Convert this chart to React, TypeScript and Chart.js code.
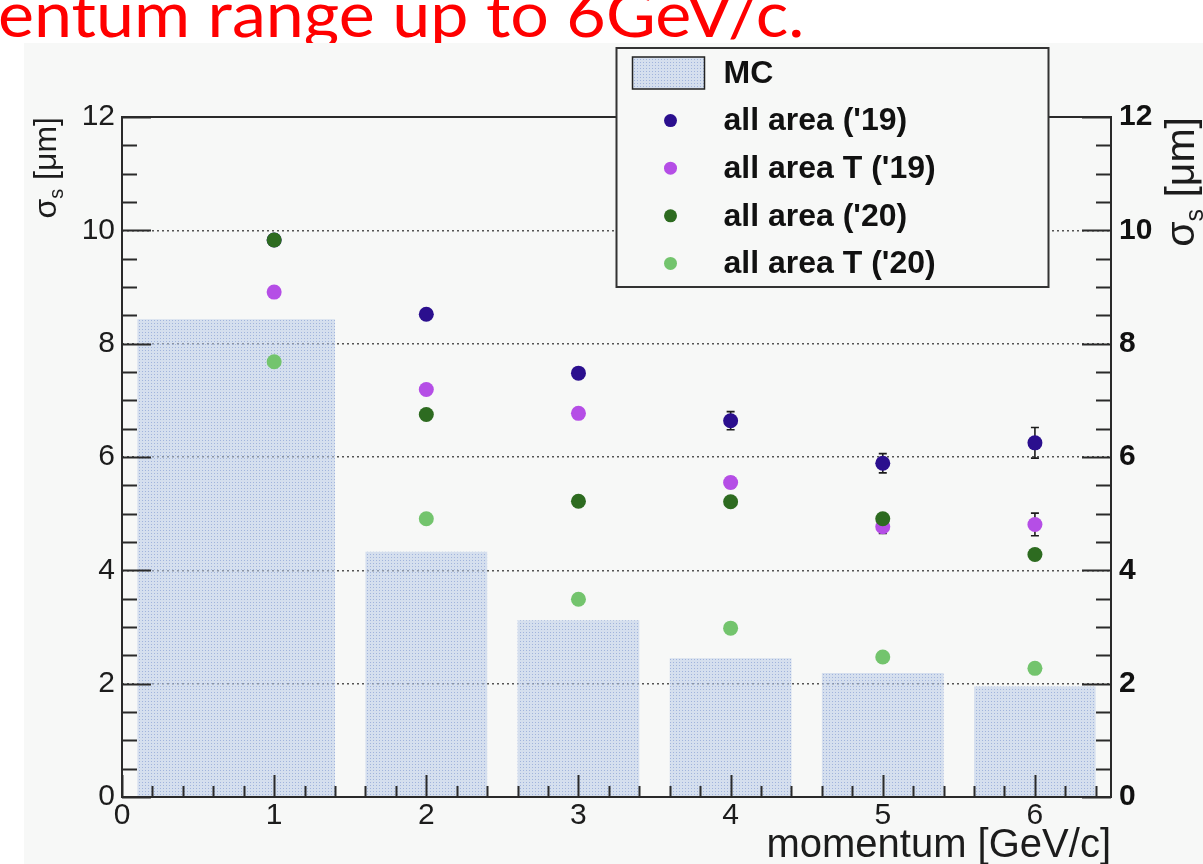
import React, { useEffect, useRef } from "react";
import { Chart, registerables } from "chart.js";

Chart.register(...registerables);

// ---------------- data ----------------
const momentum = [1, 2, 3, 4, 5, 6];
const mcBinLow = [0.1, 1.6, 2.6, 3.6, 4.6, 5.6];
const mcBinHigh = [1.4, 2.4, 3.4, 4.4, 5.4, 6.4];
const mcSigma = [8.43, 4.33, 3.12, 2.45, 2.19, 1.95];
const allArea19 = [9.83, 8.52, 7.48, 6.64, 5.89, 6.25];
const allArea19Err = [0.06, 0.07, 0.08, 0.16, 0.17, 0.27];
const allAreaT19 = [8.91, 7.19, 6.77, 5.55, 4.77, 4.81];
const allAreaT19Err = [0.05, 0.06, 0.07, 0.09, 0.12, 0.2];
const allArea20 = [9.83, 6.75, 5.22, 5.21, 4.91, 4.28];
const allArea20Err = [0.04, 0.05, 0.05, 0.06, 0.07, 0.09];
const allAreaT20 = [7.68, 4.91, 3.49, 2.98, 2.47, 2.27];
const allAreaT20Err = [0.04, 0.04, 0.04, 0.05, 0.06, 0.08];
const xTickValues = [0, 1, 2, 3, 4, 5, 6];
const yTickValues = [0, 2, 4, 6, 8, 10, 12];
const seriesLabels = ["MC", "all area ('19)", "all area T ('19)", "all area ('20)", "all area T ('20)"];
const seriesColors = ["rgba(186,202,232,0.55)", "#2b0f8e", "#b54ee6", "#2d6b20", "#73c46d"];
const mcDotColor = "rgba(140,162,212,0.7)";
const xTitle = "momentum [GeV/c]";
const yTitleSymbol = "σ";
const yTitleSub = "s";
const yTitleUnit = " [μm]";
const slideTitle = "entum range up to 6GeV/c.";

const FONT = "'Liberation Sans', Arial, Helvetica, sans-serif";
const BG = "#f7f8f7";
const INK = "#1c1c1c";

function makePattern(): CanvasPattern | string {
  const c = document.createElement("canvas");
  c.width = 3;
  c.height = 3;
  const g = c.getContext("2d");
  if (!g) return seriesColors[0];
  g.fillStyle = seriesColors[0];
  g.fillRect(0, 0, 3, 3);
  g.fillStyle = mcDotColor;
  g.fillRect(1, 1, 1, 1);
  return g.createPattern(c, "repeat") || seriesColors[0];
}

const errorBarPlugin = {
  id: "errorBars",
  beforeDatasetsDraw(chart: any) {
    const { ctx } = chart;
    const x = chart.scales.x;
    const y = chart.scales.y;
    ctx.save();
    ctx.strokeStyle = INK;
    ctx.lineWidth = 1.6;
    chart.data.datasets.forEach((ds: any) => {
      if (!ds.errors) return;
      ds.data.forEach((p: any, j: number) => {
        const e = ds.errors[j];
        const px = x.getPixelForValue(p.x);
        const t = y.getPixelForValue(p.y + e);
        const b = y.getPixelForValue(p.y - e);
        ctx.beginPath();
        ctx.moveTo(px, t);
        ctx.lineTo(px, b);
        ctx.moveTo(px - 4, t);
        ctx.lineTo(px + 4, t);
        ctx.moveTo(px - 4, b);
        ctx.lineTo(px + 4, b);
        ctx.stroke();
      });
    });
    ctx.restore();
  },
};

const framePlugin = {
  id: "frameTicks",
  afterDatasetsDraw(chart: any) {
    const { ctx, chartArea } = chart;
    const { left, right, top, bottom } = chartArea;
    const x = chart.scales.x;
    const y = chart.scales.y;
    ctx.save();
    ctx.strokeStyle = "#2a2a2a";
    ctx.lineWidth = 2;
    ctx.strokeRect(left, top, right - left, bottom - top);
    ctx.beginPath();
    for (let k = 0; k <= 24; k++) {
      const v = k * 0.5;
      const py = Math.round(y.getPixelForValue(v)) + 0.5;
      const len = k % 4 === 0 ? 29 : 15;
      ctx.moveTo(left, py);
      ctx.lineTo(left + len, py);
      ctx.moveTo(right, py);
      ctx.lineTo(right - len, py);
    }
    for (let k = 0; k <= 32; k++) {
      const v = k * 0.2;
      const px = Math.round(x.getPixelForValue(v)) + 0.5;
      const len = k % 5 === 0 ? 22 : 11;
      ctx.moveTo(px, bottom);
      ctx.lineTo(px, bottom - len);
    }
    ctx.stroke();
    ctx.restore();
  },
};

function drawSigmaTitle(ctx: CanvasRenderingContext2D, cx: number, yEnd: number, size: number) {
  ctx.save();
  ctx.translate(cx, yEnd);
  ctx.rotate(-Math.PI / 2);
  ctx.fillStyle = INK;
  ctx.textBaseline = "alphabetic";
  ctx.textAlign = "left";
  const big = `${size}px ${FONT}`;
  const small = `${Math.round(size * 0.62)}px ${FONT}`;
  ctx.font = big;
  const w1 = ctx.measureText(yTitleSymbol).width;
  const w3 = ctx.measureText(yTitleUnit).width;
  ctx.font = small;
  const w2 = ctx.measureText(yTitleSub).width;
  const total = w1 + w2 + w3;
  const base = size * 0.3;
  let xx = -total;
  ctx.font = big;
  ctx.fillText(yTitleSymbol, xx, base);
  xx += w1;
  ctx.font = small;
  ctx.fillText(yTitleSub, xx, base + size * 0.22);
  xx += w2;
  ctx.font = big;
  ctx.fillText(yTitleUnit, xx, base);
  ctx.restore();
}

const decorPlugin = {
  id: "decor",
  afterDraw(chart: any) {
    const { ctx, chartArea } = chart;
    const { left, right, top } = chartArea;
    // axis titles
    drawSigmaTitle(ctx, left - 76, top, 32);
    drawSigmaTitle(ctx, right + 71, top, 41);

    // legend
    const bx = left + (right - left) * 0.5;
    const by = top - 69;
    const bw = 432;
    const bh = 239;
    ctx.save();
    ctx.fillStyle = BG;
    ctx.fillRect(bx, by, bw, bh);
    ctx.strokeStyle = "#333";
    ctx.lineWidth = 2;
    ctx.strokeRect(bx, by, bw, bh);
    ctx.font = `bold 32px ${FONT}`;
    ctx.textBaseline = "middle";
    ctx.textAlign = "left";
    const rowY = (i: number) => by + 25 + i * 47.6;
    chart.data.datasets.forEach((ds: any, i: number) => {
      const cy = rowY(i);
      if (i === 0) {
        ctx.fillStyle = ds.backgroundColor;
        ctx.fillRect(bx + 16, cy - 16, 72, 32);
        ctx.strokeStyle = "#222";
        ctx.lineWidth = 1.5;
        ctx.strokeRect(bx + 16, cy - 16, 72, 32);
      } else {
        ctx.fillStyle = ds.pointBackgroundColor;
        ctx.beginPath();
        ctx.arc(bx + 54, cy, 6.5, 0, Math.PI * 2);
        ctx.fill();
      }
      ctx.fillStyle = "#111";
      ctx.fillText(ds.label, bx + 107, cy + 1);
    });
    ctx.restore();
  },
};

export default function App() {
  const ref = useRef<HTMLCanvasElement | null>(null);

  useEffect(() => {
    if (!ref.current) return;
    const pattern = makePattern();
    const mcOutline = mcSigma.flatMap((v, i) => [
      { x: mcBinLow[i], y: 0 },
      { x: mcBinLow[i], y: v },
      { x: mcBinHigh[i], y: v },
      { x: mcBinHigh[i], y: 0 },
    ]);
    const pts = (vals: number[]) => vals.map((v, i) => ({ x: momentum[i], y: v }));
    const series = [allArea19, allAreaT19, allArea20, allAreaT20];
    const errs = [allArea19Err, allAreaT19Err, allArea20Err, allAreaT20Err];
    const pointSets = series.map((vals, k) => ({
      type: "scatter" as const,
      label: seriesLabels[k + 1],
      data: pts(vals),
      errors: errs[k],
      pointRadius: 7.5,
      pointHoverRadius: 7.5,
      pointBackgroundColor: seriesColors[k + 1],
      pointBorderColor: seriesColors[k + 1],
      pointBorderWidth: 0,
      showLine: false,
      order: 4 - k,
    }));

    const chart = new Chart(ref.current, {
      type: "scatter",
      data: {
        datasets: [
          {
            type: "line",
            label: seriesLabels[0],
            data: mcOutline,
            backgroundColor: pattern as any,
            borderColor: "rgba(0,0,0,0)",
            borderWidth: 0,
            pointRadius: 0,
            tension: 0,
            fill: "origin",
            order: 10,
          } as any,
          ...(pointSets as any[]),
        ],
      },
      options: {
        responsive: false,
        animation: false,
        devicePixelRatio: 1,
        events: [],
        layout: { padding: { top: 74, left: 0, right: 0, bottom: 0 } },
        plugins: {
          legend: { display: false },
          tooltip: { enabled: false },
          filler: { propagate: false },
        },
        scales: {
          x: {
            type: "linear",
            position: "bottom",
            min: 0,
            max: 6.5,
            afterBuildTicks: (s: any) => {
              s.ticks = xTickValues.map((v) => ({ value: v }));
            },
            afterFit: (s: any) => {
              s.height = 67;
            },
            grid: { display: false, drawTicks: false },
            border: { display: false },
            ticks: {
              padding: 1,
              color: INK,
              font: { family: FONT, size: 30 },
              maxRotation: 0,
              autoSkip: false,
            },
            title: {
              display: true,
              text: xTitle,
              align: "end",
              color: INK,
              font: { family: FONT, size: 40, lineHeight: 1 },
              padding: { top: 0, bottom: -2 },
            },
          },
          y: {
            type: "linear",
            position: "left",
            min: 0,
            max: 12,
            afterBuildTicks: (s: any) => {
              s.ticks = yTickValues.map((v) => ({ value: v }));
            },
            afterFit: (s: any) => {
              s.width = 98;
            },
            grid: {
              drawTicks: false,
              lineWidth: 1.5,
              color: (c: any) =>
                c.tick && c.tick.value > 0 && c.tick.value < 12 ? "#555" : "rgba(0,0,0,0)",
            },
            border: { display: false, dash: [2, 3] },
            ticks: {
              padding: 7,
              color: INK,
              font: { family: FONT, size: 30 },
            },
          },
          y2: {
            type: "linear",
            position: "right",
            min: 0,
            max: 12,
            afterBuildTicks: (s: any) => {
              s.ticks = yTickValues.map((v) => ({ value: v }));
            },
            afterFit: (s: any) => {
              s.width = 92;
            },
            grid: { display: false, drawTicks: false },
            border: { display: false },
            ticks: {
              padding: 8,
              color: "#111",
              font: { family: FONT, size: 30, weight: "bold" },
            },
          },
        },
      } as any,
      plugins: [errorBarPlugin, framePlugin, decorPlugin],
    });
    return () => chart.destroy();
  }, []);

  return (
    <div style={{ position: "absolute", left: 0, top: 0, width: 1203, height: 864, background: "#fff", overflow: "hidden" }}>
      <div
        style={{
          position: "absolute",
          left: -2,
          top: -18,
          whiteSpace: "nowrap",
          fontFamily: "Lato, 'Open Sans', sans-serif",
          fontSize: 62,
          lineHeight: "62px",
          color: "#ff0000",
          transformOrigin: "0 0",
          transform: "scaleX(1.1)",
        }}
      >
        {slideTitle}
      </div>
      <div style={{ position: "absolute", left: 24, top: 43, width: 1179, height: 821, background: BG }}>
        <canvas ref={ref} width={1179} height={821} style={{ display: "block", width: 1179, height: 821 }} />
      </div>
    </div>
  );
}
